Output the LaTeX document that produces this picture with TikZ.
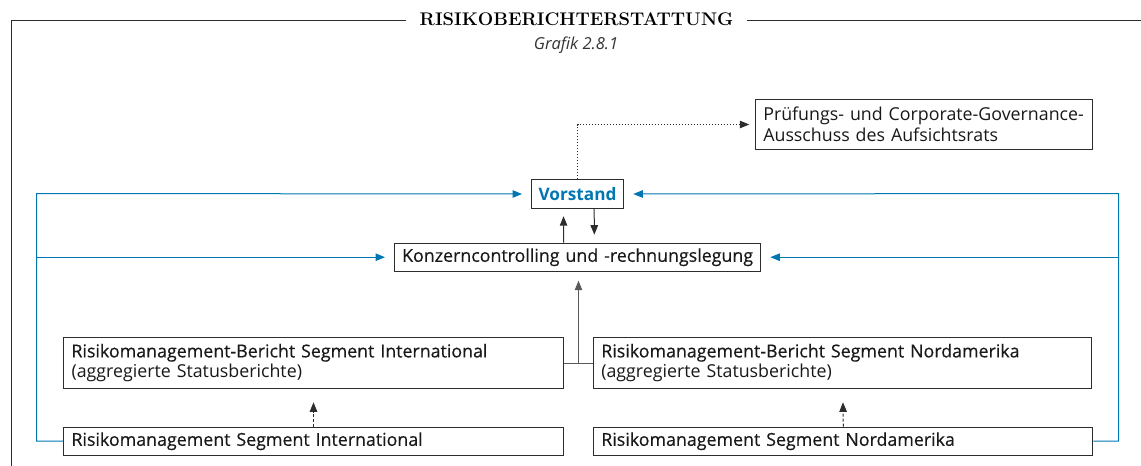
\documentclass[tikz,border=0pt]{standalone}
\usepackage{fontspec}
\setsansfont{Open Sans}
\newfontfamily\medsans{Open Sans}[FakeBold=0.35]
\usetikzlibrary{arrows.meta,calc}
\definecolor{rblue}{RGB}{0,118,178}
\definecolor{rline}{RGB}{45,45,45}
\begin{document}
\begin{tikzpicture}[x=1pt,y=-1pt,
  txt/.style={font=\sffamily\fontsize{17.8}{20.5}\selectfont},
  box/.style={draw=rline, line width=1pt, fill=white, anchor=north west,
    inner xsep=7.5pt, inner ysep=0pt, align=left, txt, text=black!90},
  conn/.style={draw=rline, line width=1pt},
  bconn/.style={draw=rblue, line width=1pt},
  tip/.style={-{Triangle[length=9.5pt,width=7.5pt]}},
]
\useasboundingbox (0,0) rectangle (1141,466);

% title
\node[font=\rmfamily\bfseries\fontsize{18.3}{20}\selectfont, inner xsep=0pt] (title) at (576.5,19) {RISIKOBERICHTERSTATTUNG};
\node[font=\sffamily\itshape\fontsize{16.5}{18}\selectfont, text=black!80] (grafik) at (576,45) {Grafik 2.8.1};
\coordinate (fl) at (11,20);
\coordinate (fb) at (11,466);
\coordinate (fr) at (1141,20);
\coordinate (tl) at ([xshift=-13pt]title.west);
\coordinate (tr) at ([xshift=13pt]title.east);
\draw[rline, line width=1pt] (fb) -- (fl) -- (fl -| tl);
\draw[rline, line width=1pt] (fr -| tr) -- (fr);

% boxes
\node[box, minimum width=337pt, minimum height=50.6pt, text width=322pt] (pruef) at (755.3,98.7)
  {Prüfungs- und Corporate-Governance-\\Ausschuss des Aufsichtsrats};
\node[box, minimum width=92.6pt, minimum height=28.4pt, align=center, inner xsep=0pt,
  font=\sffamily\bfseries\fontsize{17.2}{20}\selectfont, text=rblue] (vorstand) at (530.7,179.3) {Vorstand};
\node[box, minimum width=366.3pt, minimum height=28pt, text width=351pt] (konzern) at (394,242.7)
  {\medsans Konzerncontrolling und -rechnungslegung};
\node[box, minimum width=499.4pt, minimum height=51.6pt, text width=484pt] (rbi) at (63.3,336.7)
  {{\medsans Risikomanagement-Bericht Segment International}\\(aggregierte Statusberichte)};
\node[box, minimum width=498pt, minimum height=51.6pt, text width=483pt] (rbn) at (593.3,336.7)
  {{\medsans Risikomanagement-Bericht Segment Nordamerika}\\(aggregierte Statusberichte)};
\node[box, minimum width=499.4pt, minimum height=28pt, text width=484pt] (rsi) at (63.3,426.7)
  {\medsans Risikomanagement Segment International};
\node[box, minimum width=499pt, minimum height=28pt, text width=484pt] (rsn) at (593.3,426.7)
  {\medsans Risikomanagement Segment Nordamerika};

% dotted to Pruefungsausschuss
\draw[conn, dotted, tip, shorten >=6pt] (vorstand.north) |- (pruef.west);

% Vorstand <-> Konzern
\draw[conn, tip, shorten >=7.5pt] ($(konzern.north)+(-14,0)$) -- ($(vorstand.south)+(-14,0)$);
\draw[conn, tip, shorten >=8pt] ($(vorstand.south)+(16.7,0)$) -- ($(konzern.north)+(16.7,0)$);

% reports to Konzern
\coordinate (mid) at ($(rbi.east)!0.5!(rbn.west)$);
\draw[conn, draw=black!65] (rbi.east) -- (rbn.west);
\draw[conn, draw=black!65, tip, shorten >=9pt] (mid) -- (mid |- konzern.south);

% dashed segment -> report
\draw[conn, dash pattern=on 3pt off 2pt, tip, shorten >=13pt] (rsi.north) -- (rbi.south);
\draw[conn, dash pattern=on 3pt off 2pt, tip, shorten >=13pt] (rsn.north) -- (rbn.south);

% blue loops
\coordinate (lt) at (36.7,193.5);
\coordinate (rt) at (1118.5,193.5);
\draw[bconn, tip, shorten >=8.7pt] (rsi.west) -| (lt) -- (vorstand.west);
\draw[bconn, tip, shorten >=9pt] (lt |- konzern.west) -- (konzern.west);
\draw[bconn, tip, shorten >=9pt] (rsn.east) -| (rt) -- (vorstand.east);
\draw[bconn, tip, shorten >=9pt] (rt |- konzern.east) -- (konzern.east);
\end{tikzpicture}
\end{document}
